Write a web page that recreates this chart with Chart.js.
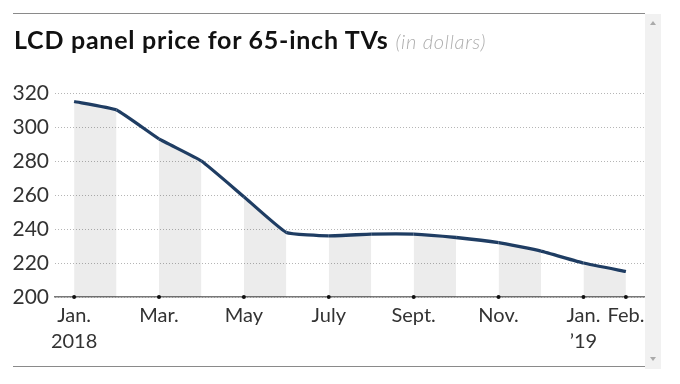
<!DOCTYPE html>
<html><head><meta charset="utf-8">
<script src="https://cdn.jsdelivr.net/npm/chart.js@4.4.1/dist/chart.umd.min.js"></script>
<style>
html,body{margin:0;padding:0;background:#fff;width:680px;height:384px;overflow:hidden;font-family:Lato,sans-serif;}
#wrap{position:relative;width:680px;height:384px;}
#c{position:absolute;left:0;top:0;}
.hl{position:absolute;left:13px;width:632px;height:0;border-top:1.5px solid #8a8a8a;}
#scroll{position:absolute;left:645px;top:14px;width:16px;height:355px;background:#f1f1f1;}
.arr{position:absolute;left:650px;width:0;height:0;border-left:3px solid transparent;border-right:3px solid transparent;}
#up{top:21px;border-bottom:4px solid #aaa;}
#dn{top:357px;border-top:4px solid #aaa;}
#title{position:absolute;left:14px;top:24px;font-size:25px;font-weight:700;color:#111;white-space:nowrap;letter-spacing:0.75px;}
#title span{font-weight:300;font-style:italic;color:#adadad;font-size:20px;letter-spacing:0.7px;}
</style></head>
<body><div id="wrap">
<canvas id="c" width="680" height="384"></canvas>
<div class="hl" style="top:13px"></div>
<div class="hl" style="top:366px"></div>
<div id="scroll"></div><div class="arr" id="up"></div><div class="arr" id="dn"></div>
<div id="title">LCD panel price for 65-inch TVs <span>(in dollars)</span></div>
</div>
<script>
const months = ['Jan.','Feb.','Mar.','Apr.','May','June','July','Aug.','Sept.','Oct.','Nov.','Dec.','Jan.','Feb.'];
const prices = [315,310,293,280,259,238,236,237,237,235,232,227,220,215];
const tickIndices = [0,2,4,6,8,10,12,13];
const tickLabels = [['Jan.','2018'],'Mar.','May','July','Sept.','Nov.',['Jan.','\u201919'],'Feb.'];
const yTicks = [200,220,240,260,280,300,320];

new Chart(document.getElementById('c'), {
  type: 'line',
  data: {
    datasets: [
      {
        data: prices.map((v,i)=>({x:i,y:v})),
        borderColor: '#1f3d63',
        borderWidth: 3.3,
        tension: 0.12,
        pointRadius: 0,
        fill: 'start',
        backgroundColor: 'rgba(0,0,0,0)',
        segment: {
          backgroundColor: ctx => (ctx.p0DataIndex % 2 === 0 ? 'rgba(0,0,0,0.075)' : 'rgba(0,0,0,0)')
        }
      },
      {
        type: 'scatter',
        data: tickIndices.map(i=>({x:i,y:200})),
        pointRadius: 2,
        pointBackgroundColor: '#111',
        pointBorderWidth: 0,
        showLine: false,
        clip: false
      }
    ]
  },
  options: {
    responsive: false,
    animation: false,
    devicePixelRatio: 1,
    layout: {padding: {left: 0, right: 35, top: 93, bottom: 17}},
    plugins: {legend: {display: false}, tooltip: {enabled: false}, title: {display: false}},
    scales: {
      x: {
        type: 'linear',
        min: -0.45,
        max: 13.45,
        afterBuildTicks: s => { s.ticks = tickIndices.map(v=>({value:v})); },
        afterFit: s => { s.height = 70; },
        ticks: {
          autoSkip: false, maxRotation: 0, padding: 6,
          color: '#333',
          font: {family: 'Lato', size: 20, lineHeight: 1.28},
          callback: v => tickLabels[tickIndices.indexOf(v)]
        },
        grid: {display: false, drawTicks: false},
        border: {display: true, color: '#777', width: 1.5}
      },
      y: {
        min: 200, max: 320,
        afterBuildTicks: s => { s.ticks = yTicks.map(v=>({value:v})); },
        afterFit: s => { s.width = 55; },
        ticks: {
          padding: 6, color: '#333',
          font: {family: 'Lato', size: 21}
        },
        grid: {color: '#b5b5b5', lineWidth: 1, drawTicks: false},
        border: {display: false, dash: [1, 2]}
      }
    }
  }
});
</script>
</body></html>
